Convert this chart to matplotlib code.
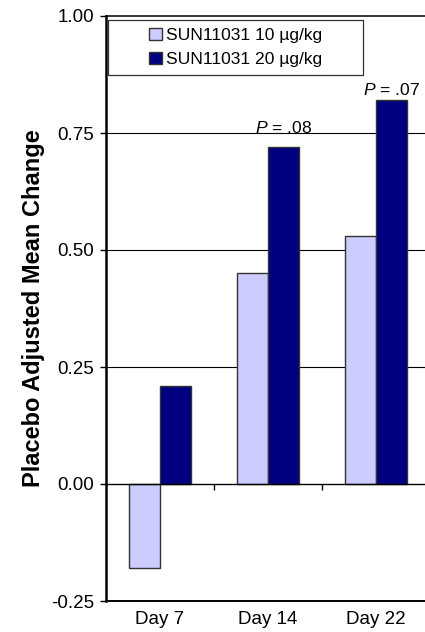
import matplotlib
matplotlib.use("Agg")
import matplotlib.pyplot as plt
from matplotlib.patches import Rectangle
import numpy as np

categories = ["Day 7", "Day 14", "Day 22"]
series_names = ["SUN11031 10 \u00b5g/kg", "SUN11031 20 \u00b5g/kg"]
values_10 = [-0.18, 0.45, 0.53]
values_20 = [0.21, 0.72, 0.82]
p_labels = ["", "= .08", "= .07"]
p_label_y = [None, 0.75, 0.831]
yticks = [-0.25, 0.00, 0.25, 0.50, 0.75, 1.00]

plt.rcParams['font.family'] = ['Liberation Sans', 'DejaVu Sans']
plt.rcParams['mathtext.fontset'] = 'custom'
plt.rcParams['mathtext.it'] = 'Liberation Sans:italic'
plt.rcParams['mathtext.rm'] = 'Liberation Sans'

fig = plt.figure(figsize=(4.25, 6.32), dpi=100)
ax = fig.add_axes([106/425, 1-601/632, 324/425, 585/632])

x = np.arange(len(categories))
w = 0.287
ax.bar(x - w/2, values_10, w, color="#CCCCFF", edgecolor="#333333", linewidth=1.0, label=series_names[0], zorder=3)
ax.bar(x + w/2, values_20, w, color="#000080", edgecolor="#333333", linewidth=1.0, label=series_names[1], zorder=3)

ax.set_xlim(-0.5, len(categories) - 0.5)
ax.set_ylim(yticks[0], yticks[-1])
ax.set_yticks(yticks)
ax.set_yticklabels([f"{t:.2f}" for t in yticks], fontsize=13.5)
ax.set_xticks(x)
ax.set_xticklabels(categories, fontsize=13.5)
ax.tick_params(axis='x', length=0, pad=7)
ax.tick_params(axis='y', length=4.5, width=1, direction='out', pad=4.3)

for t in yticks[2:-1]:
    ax.axhline(t, color="black", linewidth=0.8, zorder=1)
ax.axhline(0, color="black", linewidth=1.0, zorder=4)
bounds = np.arange(len(categories) - 1) + 0.5
ax.vlines(bounds, -0.013, 0, color="black", linewidth=1.0, zorder=4)

ax.spines['left'].set_linewidth(1.8)
ax.spines['bottom'].set_linewidth(1.4)
ax.spines['top'].set_linewidth(1.1)
ax.spines['right'].set_visible(False)

ax.set_ylabel("Placebo Adjusted Mean Change", fontsize=17, fontweight='bold', labelpad=4)

for i, lab in enumerate(p_labels):
    if lab:
        ax.text(x[i] + w/2, p_label_y[i], r"$\mathit{P}$ " + lab, ha="center", va="baseline",
                fontsize=12.6, zorder=5)

# legend box
bx0, bx1, by0, by1 = 0.006, 0.793, 0.899, 0.993
ax.add_patch(Rectangle((bx0, by0), bx1 - bx0, by1 - by0, transform=ax.transAxes,
                       facecolor="white", edgecolor="#333333", linewidth=0.9, zorder=6))
leg = ax.legend(loc="center", bbox_to_anchor=((bx0 + bx1) / 2, (by0 + by1) / 2), fontsize=12.6,
                frameon=False, handlelength=0.75, handleheight=0.7, handletextpad=0.2,
                borderpad=0.0, labelspacing=0.5)
leg.set_zorder(7)

fig.savefig("out.png", dpi=100)
